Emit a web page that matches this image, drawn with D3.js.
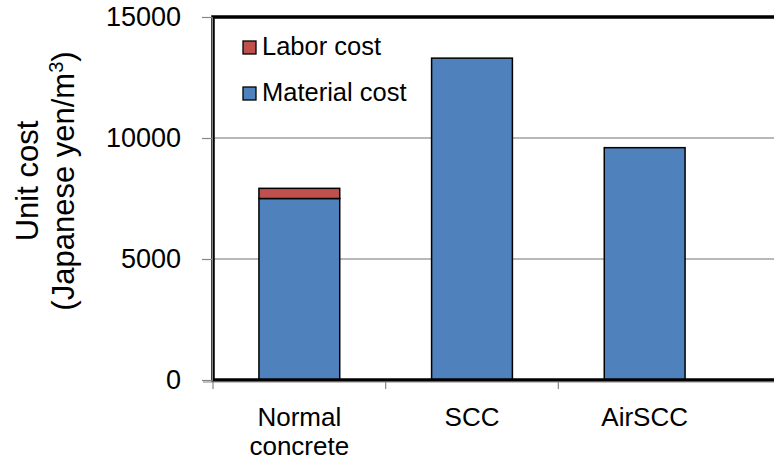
<!DOCTYPE html>
<html>
<head>
<meta charset="utf-8">
<script src="https://cdn.jsdelivr.net/npm/d3@7"></script>
<style>
  html, body { margin: 0; padding: 0; background: #fff; }
  svg { display: block; font-family: "Liberation Sans", Arial, sans-serif; }
</style>
</head>
<body>
<svg id="chart" width="774" height="460"></svg>
<script>
const categories = ["Normal concrete", "SCC", "AirSCC"];
const categoryLines = [["Normal", "concrete"], ["SCC"], ["AirSCC"]];
const materialCost = [7500, 13300, 9600];
const laborCost = [420, 0, 0];
const yTicks = [0, 5000, 10000, 15000];
const seriesNames = ["Labor cost", "Material cost"];
const seriesColors = ["#C0504D", "#4F81BD"];

(function () {
const svg = d3.select("#chart");
const pLeft = 213, pTop = 17, pBottom = 380, plotRight = 800;
const bandRight = 731;

const y = d3.scaleLinear().domain([0, 15000]).range([pBottom, pTop]);
const x = d3.scaleBand().domain(categories).range([pLeft, bandRight])
  .paddingInner(0.532).paddingOuter(0.266);

// gridlines
svg.append("g").selectAll("line").data(yTicks.filter(d => d > 0 && d < 15000)).join("line")
  .attr("x1", pLeft).attr("x2", plotRight)
  .attr("y1", d => y(d)).attr("y2", d => y(d))
  .attr("stroke", "#a0a0a0").attr("stroke-width", 1.5);

// bars
const stacks = categories.map((c, i) => ({ c, m: materialCost[i], l: laborCost[i] }));
svg.append("g").selectAll("rect").data(stacks).join("rect")
  .attr("x", d => x(d.c)).attr("width", x.bandwidth())
  .attr("y", d => y(d.m)).attr("height", d => y(0) - y(d.m))
  .attr("fill", seriesColors[1]).attr("stroke", "#000").attr("stroke-width", 1.5);
svg.append("g").selectAll("rect").data(stacks.filter(d => d.l > 0)).join("rect")
  .attr("x", d => x(d.c)).attr("width", x.bandwidth())
  .attr("y", d => y(d.m + d.l)).attr("height", d => y(d.m) - y(d.m + d.l))
  .attr("fill", seriesColors[0]).attr("stroke", "#000").attr("stroke-width", 1.5);

// plot frame (black)
svg.append("rect").attr("x", pLeft).attr("y", pTop)
  .attr("width", plotRight - pLeft).attr("height", pBottom - pTop)
  .attr("fill", "none").attr("stroke", "#000").attr("stroke-width", 3.5);

// y axis
const yAxis = d3.axisLeft(y).tickValues(yTicks).tickSize(10).tickPadding(21).tickFormat(d3.format("d"));
const gy = svg.append("g").attr("transform", `translate(${pLeft - 1},0)`).call(yAxis);
gy.select(".domain").attr("stroke", "#868686").attr("stroke-width", 1);
gy.selectAll(".tick line").attr("stroke", "#868686").attr("stroke-width", 1.2);
gy.selectAll(".tick text").attr("font-size", 27).attr("fill", "#000")
  .attr("font-family", "'Liberation Sans', Arial, sans-serif");

// x axis line and ticks at band boundaries (left of each category)
const bounds = categories.map(c => x(c) - x.step() * x.paddingInner() / 2);
svg.append("line").attr("x1", pLeft - 10).attr("x2", plotRight)
  .attr("y1", pBottom + 2).attr("y2", pBottom + 2)
  .attr("stroke", "#868686").attr("stroke-width", 1.2);
svg.append("g").selectAll("line").data(bounds).join("line")
  .attr("x1", d => d).attr("x2", d => d)
  .attr("y1", pBottom + 2).attr("y2", pBottom + 9)
  .attr("stroke", "#868686").attr("stroke-width", 1.2);

// x labels
const xl = svg.append("g").selectAll("text").data(categories).join("text")
  .attr("text-anchor", "middle").attr("font-size", 26).attr("fill", "#000");
xl.each(function(c, i) {
  const t = d3.select(this);
  categoryLines[i].forEach((ln, j) => {
    t.append("tspan").attr("x", x(c) + x.bandwidth() / 2).attr("y", 426 + j * 29).text(ln);
  });
});

// y title
svg.append("text").attr("transform", "translate(38,181) rotate(-90)")
  .attr("text-anchor", "middle").attr("font-size", 31).attr("fill", "#000")
  .text("Unit cost");
const t2 = svg.append("text").attr("transform", "translate(74,181) rotate(-90)")
  .attr("text-anchor", "middle").attr("font-size", 31).attr("fill", "#000");
t2.append("tspan").text("(Japanese yen/m");
t2.append("tspan").attr("baseline-shift", "super").attr("font-size", 20).text("3");
t2.append("tspan").text(")");

// legend
const lg = svg.append("g").selectAll("g").data(seriesNames).join("g")
  .attr("transform", (d, i) => `translate(243,${41 + i * 46})`);
lg.append("rect").attr("width", 13).attr("height", 13)
  .attr("fill", (d, i) => seriesColors[i]).attr("stroke", "#000").attr("stroke-width", 1.3);
lg.append("text").attr("x", 19).attr("y", 14).attr("font-size", 25.5).attr("fill", "#000").text(d => d);
})();
</script>
</body>
</html>
